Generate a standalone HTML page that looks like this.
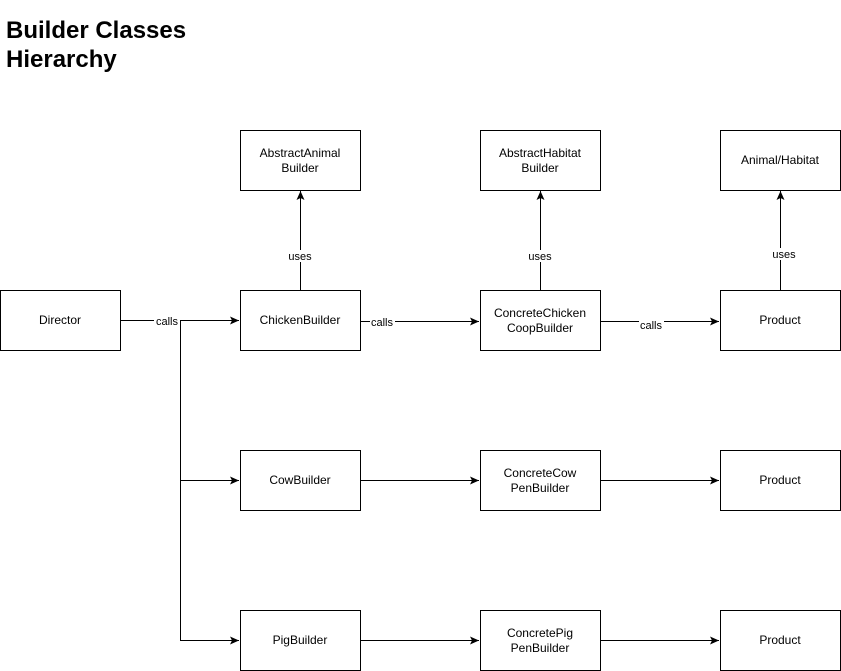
<!DOCTYPE html>
<html><head><meta charset="utf-8"><style>
html,body{margin:0;padding:0;background:#fff;}
svg{display:block;}
text{font-family:"Liberation Sans",Arial,sans-serif;font-size:12px;fill:#000;}
.t{font-size:24px;font-weight:bold;}
.lbl{font-size:11px;}
</style></head><body>
<svg width="841" height="671" viewBox="0 0 841 671" xmlns="http://www.w3.org/2000/svg">
<defs><marker id="a" markerWidth="10" markerHeight="10" refX="9" refY="5" orient="auto" markerUnits="userSpaceOnUse"><path d="M0,1 L9,5 L0,9 L2,5 Z" fill="#000"/></marker></defs>
<text class="t" x="6" y="38">Builder Classes</text>
<text class="t" x="6" y="67">Hierarchy</text>
<g fill="#fff" stroke="#000" stroke-width="1">
<rect x="240.5" y="130.5" width="120" height="60"/>
<rect x="480.5" y="130.5" width="120" height="60"/>
<rect x="720.5" y="130.5" width="120" height="60"/>
<rect x="0.5" y="290.5" width="120" height="60"/>
<rect x="240.5" y="290.5" width="120" height="60"/>
<rect x="480.5" y="290.5" width="120" height="60"/>
<rect x="720.5" y="290.5" width="120" height="60"/>
<rect x="240.5" y="450.5" width="120" height="60"/>
<rect x="480.5" y="450.5" width="120" height="60"/>
<rect x="720.5" y="450.5" width="120" height="60"/>
<rect x="240.5" y="610.5" width="120" height="60"/>
<rect x="480.5" y="610.5" width="120" height="60"/>
<rect x="720.5" y="610.5" width="120" height="60"/>
</g>
<g stroke="#000" stroke-width="1" fill="none">
<path d="M120.5,320.5 H239" marker-end="url(#a)"/>
<path d="M180.5,320.5 V640.5 H239" marker-end="url(#a)"/>
<path d="M180.5,480.5 H239" marker-end="url(#a)"/>
<path d="M360.5,321.5 H479" marker-end="url(#a)"/>
<path d="M600.5,321.5 H719" marker-end="url(#a)"/>
<path d="M360.5,480.5 H479" marker-end="url(#a)"/>
<path d="M600.5,480.5 H719" marker-end="url(#a)"/>
<path d="M360.5,640.5 H479" marker-end="url(#a)"/>
<path d="M600.5,640.5 H719" marker-end="url(#a)"/>
<path d="M300.5,290 V191" marker-end="url(#a)"/>
<path d="M540.5,290 V191" marker-end="url(#a)"/>
<path d="M780.5,290 V191" marker-end="url(#a)"/>
</g>
<g fill="#fff">
<rect x="154" y="315" width="26" height="12"/>
<rect x="370" y="316" width="25" height="12"/>
<rect x="639" y="319" width="25" height="12"/>
<rect x="288" y="250" width="25" height="12"/>
<rect x="528" y="250" width="25" height="12"/>
<rect x="768" y="248" width="25" height="12"/>
</g>
<g class="lbl" text-anchor="middle">
<text class="lbl" x="167" y="325">calls</text>
<text class="lbl" x="382" y="326">calls</text>
<text class="lbl" x="651" y="329">calls</text>
<text class="lbl" x="300" y="260">uses</text>
<text class="lbl" x="540" y="260">uses</text>
<text class="lbl" x="784" y="258">uses</text>
</g>
<g text-anchor="middle">
<text x="300" y="157">AbstractAnimal</text><text x="300" y="172">Builder</text>
<text x="540" y="157">AbstractHabitat</text><text x="540" y="172">Builder</text>
<text x="780" y="164">Animal/Habitat</text>
<text x="60" y="324">Director</text>
<text x="300" y="324">ChickenBuilder</text>
<text x="540" y="317">ConcreteChicken</text><text x="540" y="332">CoopBuilder</text>
<text x="780" y="324">Product</text>
<text x="300" y="484">CowBuilder</text>
<text x="540" y="477">ConcreteCow</text><text x="540" y="492">PenBuilder</text>
<text x="780" y="484">Product</text>
<text x="300" y="644">PigBuilder</text>
<text x="540" y="637">ConcretePig</text><text x="540" y="652">PenBuilder</text>
<text x="780" y="644">Product</text>
</g>
</svg>
</body></html>
